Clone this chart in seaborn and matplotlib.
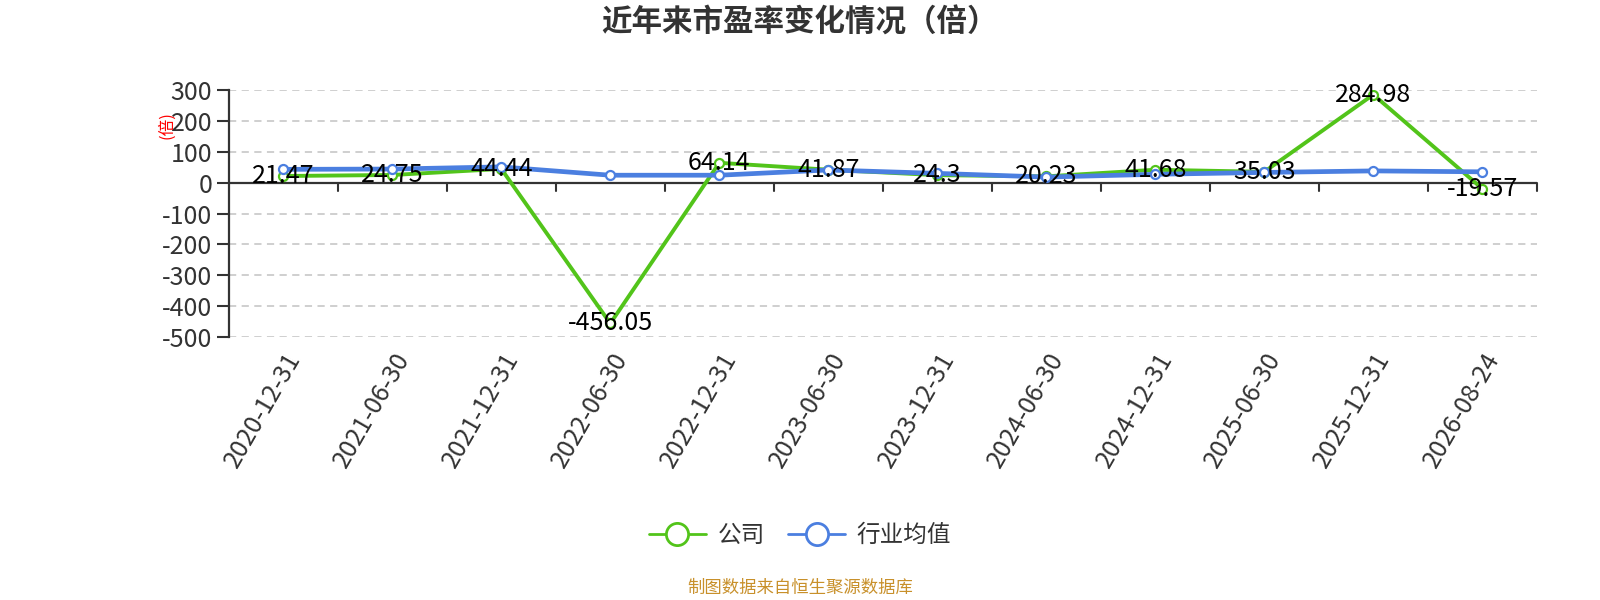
import numpy as np
import pandas as pd
import seaborn as sns
import matplotlib.pyplot as plt
from matplotlib.lines import Line2D

# Datos del gráfico
fechas = ['2020-12-31', '2021-06-30', '2021-12-31', '2022-06-30', '2022-12-31', '2023-06-30',
          '2023-12-31', '2024-06-30', '2024-12-31', '2025-06-30', '2025-12-31', '2026-08-24']
empresa = [21.47, 24.75, 44.44, -456.05, 64.14, 41.87, 24.3, 20.23, 41.68, 35.03, 284.98, -19.57]
industria = [43, 44, 51, 24, 24, 41, 30, 18, 27, 33, 38, 35]
y_ticks = [300, 200, 100, 0, -100, -200, -300, -400, -500]

verde = '#52c41a'
azul = '#4b7fe0'

sns.set_theme(style='white')
plt.rcParams['font.family'] = ['Noto Sans CJK SC', 'DejaVu Sans']

fig = plt.figure(figsize=(16, 6), dpi=100)
ax = fig.add_axes([0.143, 0.4383, 0.8175, 0.4117])

df = pd.DataFrame({'fecha': fechas, 'empresa': empresa, 'industria': industria})

sns.lineplot(data=df, x='fecha', y='empresa', ax=ax, color=verde, linewidth=2.8,
             marker='o', markersize=6.5, markerfacecolor='white', markeredgecolor=verde,
             markeredgewidth=1.6, sort=False, zorder=3)
sns.lineplot(data=df, x='fecha', y='industria', ax=ax, color=azul, linewidth=3.4,
             marker='o', markersize=6.5, markerfacecolor='white', markeredgecolor=azul,
             markeredgewidth=1.6, sort=False, zorder=4)

# Etiquetas de valores
for i, v in enumerate(empresa):
    ax.text(i, v, f'{v:g}', ha='center', va='center', fontsize=18, color='black', zorder=5)

ax.set_xlim(-0.5, len(fechas) - 0.5)
ax.set_ylim(-500, 300)
ax.set_yticks(y_ticks)
ax.set_yticklabels([str(t) for t in y_ticks], fontsize=18, color='#333333')
ax.set_xticks(range(len(fechas)))
ax.set_xticklabels(fechas, rotation=60, ha='right', rotation_mode='anchor', fontsize=18, color='#333333')
ax.tick_params(axis='x', which='major', length=0, pad=8)
ax.tick_params(axis='y', length=9, width=1.5, color='#333333', left=True, pad=3)
ax.set_xlabel('')
ax.set_ylabel('')

for t in y_ticks:
    if t != 0:
        ax.axhline(t, color='#cccccc', linestyle=(0, (4, 3)), linewidth=1.3, zorder=0)
ax.axhline(0, color='#333333', linewidth=1.6, zorder=2)

for s in ['top', 'right', 'bottom']:
    ax.spines[s].set_visible(False)
ax.spines['left'].set_color('#333333')
ax.spines['left'].set_linewidth(1.6)

# Marcas del eje x hacia abajo desde la línea cero
for x in np.arange(0.5, len(fechas), 1):
    ax.plot([x, x], [0, -28], color='#333333', linewidth=1.5, clip_on=False, zorder=2)

fig.text(0.104, 0.792, '(倍)', color='red', fontsize=12, rotation=90, ha='center', va='center')
fig.suptitle('近年来市盈率变化情况（倍）', fontsize=22, fontweight='bold', color='#333333',
             y=0.9625, va='center')

handles = [Line2D([0], [0], color=verde, linewidth=2, marker='o', markersize=16,
                  markerfacecolor='white', markeredgecolor=verde, markeredgewidth=2),
           Line2D([0], [0], color=azul, linewidth=2, marker='o', markersize=16,
                  markerfacecolor='white', markeredgecolor=azul, markeredgewidth=2)]
fig.legend(handles, ['公司', '行业均值'], loc='center', bbox_to_anchor=(0.5, 0.107), ncol=2,
           frameon=False, fontsize=17, handlelength=2.4, columnspacing=1.0, handletextpad=0.5,
           labelcolor='#333333')

fig.text(0.5, 0.02, '制图数据来自恒生聚源数据库', color='#c8902a', fontsize=12.5, ha='center', va='center')

fig.savefig('out.png', dpi=100)
